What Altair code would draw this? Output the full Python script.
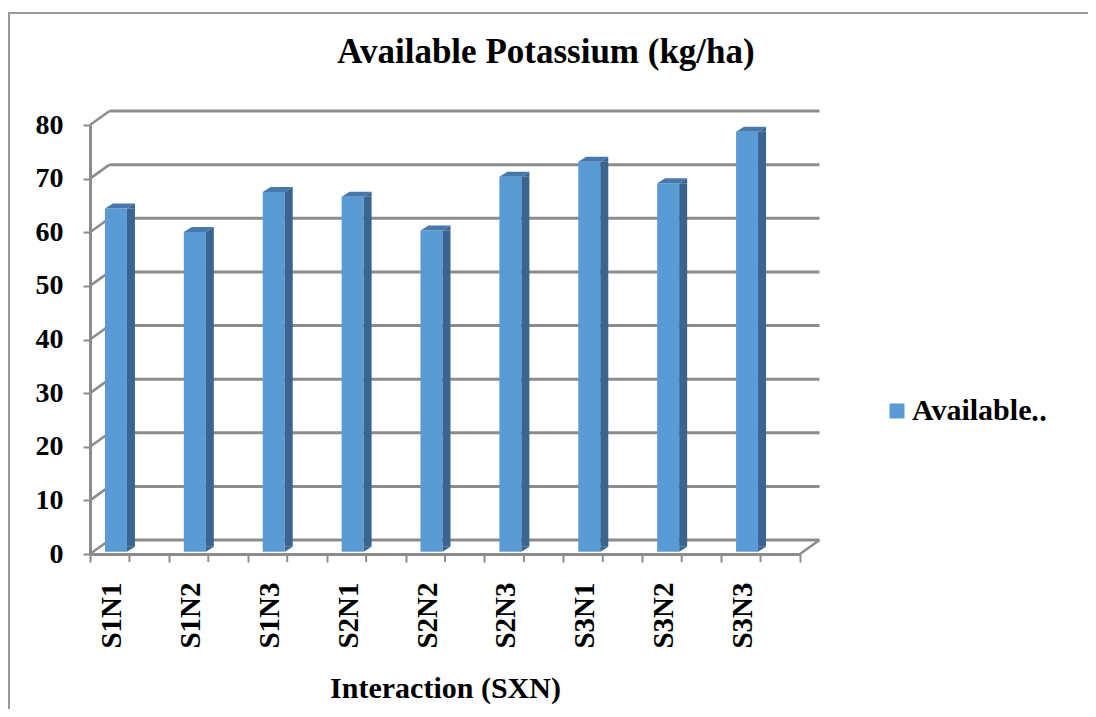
import altair as alt
import pandas as pd

# ---- data ----
categories = ["S1N1", "S1N2", "S1N3", "S2N1", "S2N2", "S2N3", "S3N1", "S3N2", "S3N3"]
values = [64.0, 59.6, 67.1, 66.2, 59.9, 69.9, 72.7, 68.7, 78.3]
y_ticks = [0, 10, 20, 30, 40, 50, 60, 70, 80]
series_name = "Available Potassium (kg/ha)"
chart_title = "Available Potassium (kg/ha)"
x_title = "Interaction (SXN)"

# ---- style ----
W, H = 710, 429
DX, DY = 19.5, -14
FONT = "Liberation Serif"
GRAY = "#8c8c8c"
FRONT = "#5b9bd5"
SIDE = "#3b6591"
TOP = "#4678ad"
BAR_X = -13.5
BAR_Y = -2.3

df = pd.DataFrame({"cat": categories, "val": values, "series": [series_name] * len(categories)})
grid_df = pd.DataFrame({"v": y_ticks})
one_df = pd.DataFrame({"k": [0]})

xs = alt.Scale(domain=categories, paddingInner=0, paddingOuter=0)
ys = alt.Scale(domain=[0, 80], nice=False, zero=True)

x_axis = alt.Axis(
    title=x_title, titleFont=FONT, titleFontSize=30, titleFontWeight="bold", titleColor="black",
    titlePadding=25,
    labelFont=FONT, labelFontSize=29, labelFontWeight="bold", labelColor="black",
    labelAngle=270, labelOffset=-18, labelPadding=20,
    tickBand="extent", tickSize=8, tickColor=GRAY, tickWidth=2,
    domainColor=GRAY, domainWidth=3, grid=False, zindex=1,
)
y_axis = alt.Axis(
    values=y_ticks, title=None,
    labelFont=FONT, labelFontSize=28, labelFontWeight="bold", labelColor="black",
    labelPadding=20, tickSize=7, tickColor=GRAY, tickWidth=2,
    domainColor=GRAY, domainWidth=3, grid=False, zindex=1,
)

X = alt.X("cat:N", scale=xs, sort=categories, axis=x_axis)
Y_val = alt.Y("val:Q", scale=ys, axis=y_axis)
Y_grid = alt.Y("v:Q", scale=ys, axis=y_axis)

frame = alt.Chart(one_df).mark_rect(fillOpacity=0, stroke="#9a9a9a", strokeWidth=2).encode(
    x=alt.value(-81), x2=alt.value(1200), y=alt.value(-112), y2=alt.value(900)
)

back_grid = alt.Chart(grid_df).mark_rule(color=GRAY, strokeWidth=3, yOffset=DY).encode(
    x=alt.value(DX), x2=alt.value(W + DX), y=Y_grid
)

depth = alt.Chart(grid_df).mark_rule(color=GRAY, strokeWidth=2.5, y2Offset=DY).encode(
    x=alt.value(0), x2=alt.value(DX), y=Y_grid, y2=alt.Y2("v:Q")
)

corner = alt.Chart(one_df).mark_rule(color=GRAY, strokeWidth=2.5, y2Offset=DY).encode(
    x=alt.value(W), x2=alt.value(W + DX), y=alt.datum(0), y2=alt.datum(0)
)

center_ticks = alt.Chart(df).mark_rule(color=GRAY, strokeWidth=2).encode(
    x=X, y=alt.value(H), y2=alt.value(H + 8)
)

front = alt.Chart(df).mark_bar(size=22, xOffset=BAR_X, yOffset=BAR_Y, y2Offset=BAR_Y).encode(
    x=X,
    y=Y_val,
    y2=alt.datum(0),
    color=alt.Color(
        "series:N",
        scale=alt.Scale(range=[FRONT]),
        legend=alt.Legend(
            title=None, orient="none", legendX=792, legendY=271,
            symbolType="square", symbolSize=225, symbolStrokeWidth=0,
            labelFont=FONT, labelFontSize=30, labelFontWeight="bold", labelColor="black",
            labelExpr="slice(datum.label, 0, 9) + '‥'", labelOffset=0, labelLimit=400,
        ),
    ),
)

side = alt.Chart(df).mark_bar(size=8, xOffset=BAR_X + 15, yOffset=BAR_Y, y2Offset=BAR_Y - 5, color=SIDE).encode(
    x=X, y=Y_val, y2=alt.datum(0),
)

cap_path = "M -0.55 0 L 0.55 0 L 0.95 -0.25 L -0.15 -0.25 Z"
tri_path = "M 0.55 0 L 0.95 -0.25 L 0.95 0 Z"
floor_path = "M 0.55 -0.25 L 0.55 0 L 0.95 -0.25 Z"

cap = alt.Chart(df).mark_point(shape=cap_path, size=1600, filled=True, color=TOP, opacity=1,
                               strokeWidth=0, xOffset=BAR_X, yOffset=BAR_Y).encode(x=X, y=Y_val)
cap_side = alt.Chart(df).mark_point(shape=tri_path, size=1600, filled=True, color=SIDE, opacity=1,
                                    strokeWidth=0, xOffset=BAR_X, yOffset=BAR_Y).encode(x=X, y=Y_val)
floor_side = alt.Chart(df).mark_point(shape=floor_path, size=1600, filled=True, color=SIDE, opacity=1,
                                      strokeWidth=0, xOffset=BAR_X, yOffset=BAR_Y).encode(x=X, y=alt.datum(0))

chart = alt.layer(
    frame, back_grid, depth, corner, center_ticks, front, side, cap, cap_side, floor_side
).properties(
    width=W, height=H,
    background="white",
    padding={"left": 82, "top": 117, "right": 288, "bottom": 155},
    autosize=alt.AutoSizeParams(type="none"),
    title=alt.TitleParams(
        text=chart_title, font=FONT, fontSize=35, fontWeight="bold", color="black",
        anchor="middle", dx=101, offset=-58,
    ),
).configure_view(stroke=None)

chart.save("out.html", embed_options={"renderer": "svg", "actions": False})
